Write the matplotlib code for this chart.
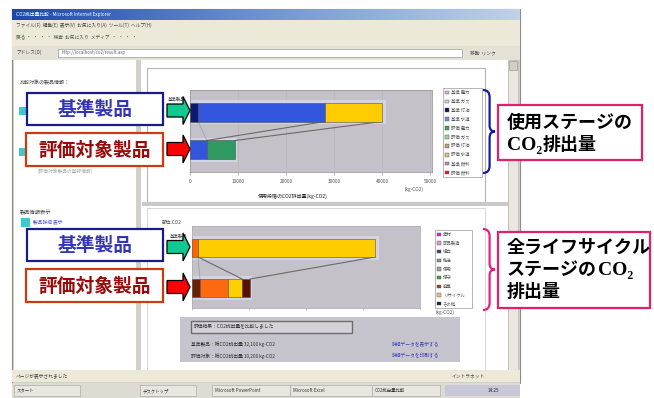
import numpy as np
import matplotlib
matplotlib.use("Agg")
import matplotlib.pyplot as plt
from matplotlib.patches import Rectangle, Polygon, PathPatch
from matplotlib.path import Path
from matplotlib.colors import LinearSegmentedColormap

plt.rcParams['font.family'] = ['Noto Sans CJK JP', 'DejaVu Sans']

W, H = 654, 398

# --- data (kg-CO2) ---
# usage stage chart: base product (top bar), evaluated product (bottom bar)
use_base = [1700, 26400, 11900]
use_base_colors = ['#0a1a6e', '#3355dd', '#ffcc00']
use_eval = [3500, 5900]
use_eval_colors = ['#3355dd', '#2e9960']
use_ticks = [0, 10000, 20000, 30000, 40000, 50000]

# whole life cycle chart
life_base = [1050, 31050]
life_base_colors = ['#ff6600', '#ffcc00']
life_eval = [1400, 4900, 2500, 1400]
life_eval_colors = ['#6b1f05', '#ff6a10', '#ffd000', '#5a1000']

use_legend = ['基準 電力', '基準 ガス', '基準 灯油', '基準 水道', '評価 電力',
              '評価 ガス', '評価 灯油', '評価 水道', '基準 燃料', '評価 燃料']
use_legend_colors = ['#d9b3e0', '#d0d0d0', '#101060', '#7090c0', '#40a060',
                     '#a0d0a0', '#c0a070', '#d8c090', '#c090a0', '#e02020']
life_legend = ['素材', '部品製造', '組立', '輸送', '使用', '保守',
               '廃棄', 'リサイクル', 'その他']
life_legend_colors = ['#e020e0', '#f090c0', '#404070', '#8090a0', '#a0a0a0',
                      '#40a040', '#a04010', '#e0c080', '#202020']

fig = plt.figure(figsize=(6.54, 3.98), dpi=100)


def px_axes(x0, y0, x1, y1, z):
    return fig.add_axes([x0 / W, 1 - y1 / H, (x1 - x0) / W, (y1 - y0) / H], zorder=z)


def rect(ax, x0, y0, x1, y1, fc, ec='none', lw=0.6, z=1):
    ax.add_patch(Rectangle((x0, y0), x1 - x0, y1 - y0, fc=fc, ec=ec, lw=lw, zorder=z))


def small(ax, x, y, s, size=3.6, color='#555555', **kw):
    ax.text(x, y, s, fontsize=size, color=color, va='center', **kw)


# ---------- browser window (background layer) ----------
bg = px_axes(0, 0, W, H, 0)
bg.axis('off')

rect(bg, 12, 9, 520, 383, '#d6d3ca', '#8a8a8a', 0.8)
grad = LinearSegmentedColormap.from_list('title', ['#1c48a8', '#6f95d0', '#c0d2e8'])
bg.imshow(np.linspace(0, 1, 256)[None, :], cmap=grad, aspect='auto',
          extent=(12, 520, 20, 9), zorder=2)
small(bg, 16, 14.5, 'CO2排出量比較 - Microsoft Internet Explorer', 3.4, 'white')
rect(bg, 500, 22, 519, 31, '#101010', z=2)
rect(bg, 12, 20, 520, 46, '#ece9d8', z=2)
small(bg, 16, 25, 'ファイル(F)  編集(E)  表示(V)  お気に入り(A)  ツール(T)  ヘルプ(H)', 3.4, '#444444', zorder=3)
small(bg, 16, 38, '戻る ・  ・  ・  ・  検索  お気に入り  メディア  ・  ・  ・  ・', 3.4, '#555555', zorder=3)
rect(bg, 12, 46, 520, 60, '#e4e1d6', z=2)
rect(bg, 58, 48.5, 462, 57, 'white', '#9a9a9a', 0.5, z=3)
small(bg, 16, 52.5, 'アドレス(D)', 3.4, '#444444', zorder=3)
small(bg, 62, 52.5, 'http://localhost/co2/result.asp', 3.2, '#666666', zorder=4)
small(bg, 470, 52.5, '移動  リンク', 3.4, '#444444', zorder=3)

# content area
rect(bg, 14, 60, 508, 370, 'white', z=2)
rect(bg, 136, 60, 141, 370, '#d4d0c8', z=3)
rect(bg, 508, 60, 518, 370, '#e9e7e0', '#b0b0b0', 0.4, z=3)
rect(bg, 509, 61, 517, 70, '#d0cdc4', '#909090', 0.4, z=4)

# left pane
small(bg, 20, 83, '比較対象の製品情報：', 3.6, '#444444', zorder=3)
rect(bg, 19, 107, 26, 115, '#40c8d0', z=3)
rect(bg, 19, 148, 26, 156, '#40c8d0', z=3)
small(bg, 38, 171, '(評価対象製品の登録情報)', 3.4, '#aaaaaa', zorder=3)
small(bg, 20, 212, '製品情報表示', 3.8, '#444444', zorder=3)
rect(bg, 21, 218, 30, 227, '#40c8d0', z=3)
small(bg, 33, 222, '製品詳細 表示', 3.4, '#5050d0', zorder=3)

# right panels
rect(bg, 147, 68, 485, 202, 'white', '#b4b4b4', 0.8, z=3)
rect(bg, 142, 202, 508, 206, '#c8c8c8', z=3)
rect(bg, 147, 208, 485, 370, 'white', '#d0d0d0', 0.6, z=3)
small(bg, 168, 99, '基準製品', 3.2, '#444444', zorder=4)
small(bg, 162, 222, '部位:CO2', 3.4, '#444444', zorder=4)
small(bg, 170, 236, '基準製品', 3.2, '#444444', zorder=4)
bg.text(293, 196, '使用段階のCO2排出量(kg-CO2)', fontsize=3.6, color='#222222',
        ha='center', va='center', zorder=4)
small(bg, 405, 189, '(kg-CO2)', 3.4, '#555555', zorder=4)
small(bg, 436, 312, '(kg-CO2)', 3.4, '#555555', zorder=4)

# info box under charts
rect(bg, 180, 317, 460, 362, '#c6c4cc', z=4)
rect(bg, 191, 321, 352, 333, '#d4d2d8', '#6e6e6e', 1.0, z=5)
small(bg, 194, 327, '評価結果：CO2排出量を比較しました', 3.4, '#333333', zorder=6)
small(bg, 191, 344, '基準製品：総CO2排出量 32,100 kg-CO2', 3.4, '#333333', zorder=6)
small(bg, 191, 356, '評価対象：総CO2排出量 10,200 kg-CO2', 3.4, '#333333', zorder=6)
small(bg, 392, 344, '詳細データを表示する', 3.4, '#4040c0', zorder=6)
small(bg, 392, 356, '詳細データを印刷する', 3.4, '#4040c0', zorder=6)

# status bar and taskbar
rect(bg, 12, 370, 520, 382, '#ece9d8', z=3)
small(bg, 16, 376, 'ページが表示されました', 3.4, '#444444', zorder=4)
small(bg, 452, 376, 'イントラネット', 3.4, '#444444', zorder=4)
rect(bg, 12, 383, 520, 398, '#dedbd2', z=3)
for x0, x1, lab in [(14, 80, 'スタート'), (140, 196, 'デスクトップ'),
                    (212, 290, 'Microsoft PowerPoint'), (290, 372, 'Microsoft Excel'),
                    (372, 440, 'CO2排出量比較')]:
    rect(bg, x0, 385, x1, 396, '#e8e6de', '#a0a0a0', 0.4, z=4)
    small(bg, x0 + 3, 390.5, lab, 3.2, '#333333', zorder=5)
rect(bg, 445, 385, 520, 396, '#c8c8d8', z=4)
small(bg, 488, 390.5, '14:25', 3.4, '#222222', zorder=5)


def draw_legend(ax, x0, y0, x1, y1, names, colors):
    rect(ax, x0, y0, x1, y1, 'white', '#a8a8a8', 0.6, z=5)
    step = (y1 - y0) / len(names)
    for i, (n, c) in enumerate(zip(names, colors)):
        yy = y0 + step * (i + 0.5)
        rect(ax, x0 + 2, yy - 1.8, x0 + 5.6, yy + 1.8, c, '#505050', 0.3, z=6)
        small(ax, x0 + 8, yy, n, 3.2, '#555555', zorder=6)


draw_legend(bg, 443, 88, 482, 177, use_legend, use_legend_colors)
draw_legend(bg, 435, 230, 472, 308, life_legend, life_legend_colors)

bg.set_xlim(0, W)
bg.set_ylim(H, 0)


# ---------- stacked bar charts ----------
def stacked(ax, base, base_colors, evalv, eval_colors, h):
    # halo behind bars (3D look of the original)
    ax.barh([1, 0], [sum(base) * 1.02, sum(evalv) * 1.04], height=h + 0.14,
            color='#d2d3e4', zorder=1)
    left = 0
    cum_b = []
    for v, c in zip(base, base_colors):
        ax.barh(1, v, left=left, height=h, color=c, edgecolor='#505050',
                linewidth=0.4, zorder=3)
        left += v
        cum_b.append(left)
    left = 0
    cum_e = []
    for v, c in zip(evalv, eval_colors):
        ax.barh(0, v, left=left, height=h, color=c, edgecolor='#505050',
                linewidth=0.4, zorder=3)
        left += v
        cum_e.append(left)
    # series lines between the two bars
    for cb, ce in zip(cum_b[-2:], cum_e[-2:]):
        ax.plot([cb, ce], [1 - h / 2, h / 2], color='#6a6a6a', lw=0.8, zorder=2)
    ax.plot([cum_b[0], cum_e[0]], [1 - h / 2, h / 2], color='#9aa4b8', lw=0.6, zorder=2)


ax1 = px_axes(190, 90, 432, 172, 2)
ax1.set_facecolor('#c4c2c8')
stacked(ax1, use_base, use_base_colors, use_eval, use_eval_colors, 0.5)
ax1.set_xlim(0, 50400)
ax1.set_ylim(-0.58, 1.58)
ax1.set_xticks(use_ticks)
ax1.set_xticklabels([str(t) for t in use_ticks], fontsize=3.4, color='#555555')
ax1.tick_params(axis='x', length=2, width=0.4, pad=3, color='#808080')
ax1.set_yticks([])
ax1.grid(axis='x', color='#b4b2b8', lw=0.4)
ax1.set_axisbelow(True)
for s in ax1.spines.values():
    s.set_color('#9a9a9a')
    s.set_linewidth(0.6)

ax2 = px_axes(192, 226, 420, 308, 2)
ax2.set_facecolor('#c4c2c8')
stacked(ax2, life_base, life_base_colors, life_eval, life_eval_colors, 0.45)
ax2.set_xlim(0, 40000)
ax2.set_ylim(-0.5, 1.55)
ax2.set_xticks([0, 10000, 20000, 30000, 40000])
ax2.set_xticklabels([])
ax2.tick_params(axis='x', length=1.5, width=0.4, color='#a0a0a0')
ax2.set_yticks([])
for s in ax2.spines.values():
    s.set_color('#b0b0b0')
    s.set_linewidth(0.6)


# ---------- annotation layer ----------
ov = px_axes(0, 0, W, H, 5)
ov.set_facecolor('none')
ov.axis('off')


def label_box(x0, y0, x1, y1, text, ec, tc):
    rect(ov, x0, y0, x1, y1, 'white', ec, 1.6, z=2)
    ov.text((x0 + x1) / 2, (y0 + y1) / 2 + 0.5, text, fontsize=13.5, color=tc,
            fontweight='bold', ha='center', va='center', zorder=3,
            family=['Noto Sans CJK JP', 'DejaVu Sans'])


def block_arrow(yc, fc):
    pts = [(167, yc - 6.5), (183, yc - 6.5), (183, yc - 14), (190, yc),
           (183, yc + 14), (183, yc + 6.5), (167, yc + 6.5)]
    ov.add_patch(Polygon(pts, closed=True, fc=fc, ec='black', lw=0.9, zorder=3))


def brace(x, y0, y1, w, color):
    m = (y0 + y1) / 2
    xm = x + w * 0.55
    verts = [(x, y0), (xm, y0), (xm, y0 + w * 0.6), (xm, m - w * 0.5),
             (xm, m), (x + w, m), (xm, m), (xm, m + w * 0.5),
             (xm, y1 - w * 0.6), (xm, y1), (x, y1)]
    codes = [Path.MOVETO, Path.CURVE3, Path.CURVE3, Path.LINETO,
             Path.CURVE3, Path.CURVE3, Path.CURVE3, Path.CURVE3,
             Path.LINETO, Path.CURVE3, Path.CURVE3]
    ov.add_patch(PathPatch(Path(verts, codes), fc='none', ec=color, lw=1.6, zorder=3))


for y_base, y_eval in [(93, 133), (229, 269)]:
    label_box(27, y_base, 163, y_base + 32, '基準製品', '#1a1a8c', '#3434b8')
    label_box(26, y_eval, 163, y_eval + 33, '評価対象製品', '#cc3a10', '#9a0a0a')

block_arrow(110.5, '#10c890')
block_arrow(149, '#ff0000')
block_arrow(247, '#10c890')
block_arrow(287, '#ff0000')

brace(483, 90, 173, 12, '#1a1aa0')
brace(483, 229, 310, 12, '#e8207a')

SERIF = ['Liberation Serif', 'DejaVu Serif']
JP = ['Noto Sans CJK JP', 'DejaVu Sans']


def jp_line(x, y, s):
    return ov.text(x, y, s, fontsize=13, fontweight='bold', color='black',
                   va='baseline', zorder=3, family=JP)


def after(prev, s, fam):
    # place a text right after the previous one, on the same baseline
    return ov.annotate(s, xy=(1, 0), xycoords=prev, va='bottom', ha='left',
                       fontsize=13 if fam is JP else 14, fontweight='bold',
                       color='black', zorder=3, family=fam)


rect(ov, 498, 105, 642, 160, 'white', '#e0206a', 1.6, z=2)
jp_line(507, 128, '使用ステージの')
c1 = ov.text(507, 150, 'CO₂', fontsize=14, fontweight='bold', color='black',
             va='baseline', zorder=3, family=SERIF)
ov.annotate('排出量', xy=(1, 0), xycoords=c1, xytext=(0.5, 0),
            textcoords='offset points', va='bottom', ha='left', fontsize=13,
            fontweight='bold', color='black', zorder=3, family=JP)

rect(ov, 498, 232, 650, 308, 'white', '#e0206a', 1.6, z=2)
jp_line(507, 253, '全ライフサイクル')
t2 = jp_line(507, 275, 'ステージの')
ov.annotate('CO₂', xy=(1, 0), xycoords=t2, xytext=(0.5, 0),
            textcoords='offset points', va='bottom', ha='left', fontsize=14,
            fontweight='bold', color='black', zorder=3, family=SERIF)
jp_line(507, 297, '排出量')

ov.set_xlim(0, W)
ov.set_ylim(H, 0)

fig.savefig('out.png', dpi=100)
